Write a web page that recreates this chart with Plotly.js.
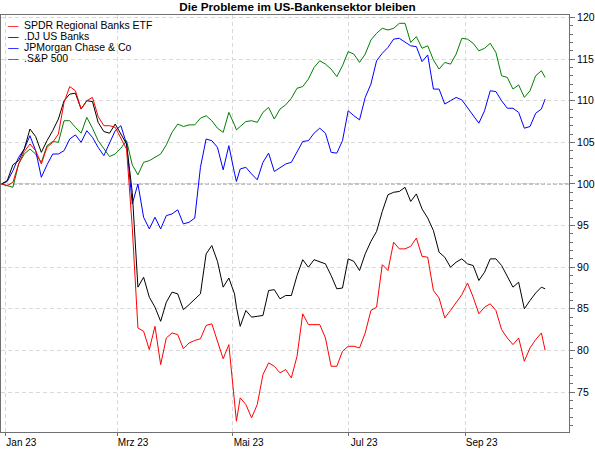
<!DOCTYPE html>
<html><head><meta charset="utf-8">
<script src="https://cdn.plot.ly/plotly-3.0.1.min.js"></script>
<style>html,body{margin:0;padding:0;background:#fff}#chart{width:595px;height:450px}</style>
</head><body><div id="chart"></div>
<script>
const dates = [
'2022-12-30','2023-01-02','2023-01-05','2023-01-08','2023-01-11','2023-01-14','2023-01-17','2023-01-20','2023-01-23','2023-01-26','2023-01-29',
'2023-02-01','2023-02-04','2023-02-07','2023-02-10','2023-02-13','2023-02-16','2023-02-19','2023-02-22','2023-02-25','2023-02-28',
'2023-03-03','2023-03-06','2023-03-09','2023-03-12','2023-03-15','2023-03-18','2023-03-21','2023-03-24','2023-03-27','2023-03-30',
'2023-04-02','2023-04-05','2023-04-08','2023-04-11','2023-04-14','2023-04-17','2023-04-20','2023-04-23','2023-04-26','2023-04-29',
'2023-05-02','2023-05-03','2023-05-05','2023-05-08','2023-05-11','2023-05-14','2023-05-17','2023-05-20','2023-05-23','2023-05-26','2023-05-29',
'2023-06-01','2023-06-04','2023-06-07','2023-06-10','2023-06-13','2023-06-16','2023-06-19','2023-06-22','2023-06-25','2023-06-28',
'2023-07-01','2023-07-04','2023-07-07','2023-07-10','2023-07-13','2023-07-16','2023-07-19','2023-07-22','2023-07-25','2023-07-28','2023-07-31',
'2023-08-03','2023-08-06','2023-08-09','2023-08-12','2023-08-15','2023-08-18','2023-08-21','2023-08-24','2023-08-27','2023-08-30',
'2023-09-02','2023-09-05','2023-09-08','2023-09-11','2023-09-14','2023-09-17','2023-09-20','2023-09-23','2023-09-26','2023-09-29',
'2023-10-02','2023-10-05','2023-10-08','2023-10-11','2023-10-13'
];

const spdrRegionalBanks = [
100, 99.8, 100.2, 102.4, 103.9, 104.8, 104.0, 102.4, 104.4, 105.0, 106.0,
109.8, 111.7, 111.2, 109.0, 110.0, 110.4, 108.1, 107.0, 107.0, 106.8,
105.4, 104.2, 94.8, 82.7, 82.3, 80.1, 82.9, 78.3, 81.5, 82.1,
81.9, 80.2, 80.9, 81.2, 81.4, 83.0, 83.2, 81.0, 79.0, 80.7,
73.3, 71.5, 74.3, 73.5, 71.9, 73.5, 77.1, 78.5, 78.1, 77.3, 77.7,
76.7, 79.3, 84.4, 83.1, 83.1, 83.1, 81.5, 78.1, 78.1, 79.9,
80.5, 80.5, 80.3, 82.1, 84.8, 85.2, 90.3, 89.6, 93.0, 92.2, 92.2,
92.5, 93.5, 91.3, 91.2, 87.2, 86.3, 83.9, 84.8, 85.7, 86.7,
88.1, 86.4, 84.4, 85.2, 85.6, 84.8, 82.5, 81.5, 80.7, 81.5,
78.7, 80.3, 81.3, 82.1, 80.0
];

const djUsBanks = [
100, 100.4, 102.3, 102.8, 104.2, 106.6, 105.7, 103.8, 105.2, 106.4, 107.8,
110.0, 110.8, 110.9, 109.0, 110.0, 109.9, 107.4, 106.3, 106.1, 107.2,
106.0, 104.8, 99.0, 87.6, 88.8, 86.4, 85.2, 83.5, 85.8, 87.0,
86.8, 84.9, 85.5, 86.1, 86.8, 91.6, 92.6, 90.7, 87.6, 88.7,
86.8, 85.2, 82.9, 84.8, 84.0, 84.1, 84.2, 87.2, 87.3, 86.2, 86.6,
86.6, 89.0, 90.9, 90.0, 90.9, 90.6, 90.4, 89.0, 87.4, 87.5,
91.0, 90.7, 89.6, 91.6, 93.1, 94.3, 96.7, 98.7, 99.0, 99.1, 99.6,
97.9, 98.8, 97.0, 95.9, 94.4, 91.8, 91.2, 90.0, 90.6, 91.0,
90.4, 90.2, 88.4, 89.4, 91.0, 91.0, 90.2, 88.9, 87.6, 88.2,
85.0, 86.0, 86.9, 87.6, 87.4
];

const jpMorganChase = [
100, 100.3, 101.6, 103.2, 104.2, 105.8, 104.0, 100.8, 102.3, 103.6, 103.6,
104.0, 105.4, 105.9, 105.0, 106.4, 105.6, 104.4, 103.4, 105.0, 106.4,
107.0, 104.8, 97.6, 100.0, 96.0, 94.6, 96.0, 94.6, 96.2, 96.4,
96.9, 95.2, 95.4, 95.9, 102.0, 105.4, 105.2, 104.4, 101.7, 104.6,
101.3, 100.3, 101.8, 102.0, 101.2, 100.5, 102.6, 103.7, 101.5, 102.0, 102.4,
102.6, 103.9, 105.1, 105.2, 106.1, 106.7, 106.1, 103.8, 103.7, 105.2,
108.8, 108.2, 107.7, 110.4, 112.0, 114.8, 115.7, 116.4, 117.4, 117.5, 117.1,
116.6, 116.5, 114.7, 115.5, 111.4, 111.4, 109.6, 110.0, 110.4, 110.1,
109.2, 108.2, 107.3, 108.8, 111.2, 111.1, 110.0, 109.1, 109.1, 108.6,
106.7, 106.9, 108.5, 109.0, 110.2
];

const sp500 = [
100, 99.8, 99.6, 102.4, 103.6, 104.2, 103.6, 102.6, 104.6, 105.1, 105.0,
107.6, 107.6, 106.8, 106.1, 108.0, 106.7, 105.2, 104.2, 103.3, 103.6,
104.3, 105.2, 102.3, 101.1, 102.6, 102.8, 103.2, 103.6, 104.7, 106.2,
107.2, 106.9, 107.1, 107.1, 107.9, 108.2, 107.6, 106.7, 106.2, 108.6,
107.1, 106.5, 106.9, 107.5, 107.6, 107.4, 108.6, 109.2, 107.8, 109.0, 109.5,
110.3, 111.5, 111.7, 112.6, 114.0, 114.8, 114.4, 113.8, 112.9, 114.2,
115.9, 115.6, 114.6, 115.6, 117.3, 118.1, 118.7, 118.5, 118.7, 119.3, 119.3,
117.0, 117.7, 116.3, 116.6, 114.9, 113.8, 114.6, 114.4, 115.6, 117.5,
117.4, 116.9, 116.0, 116.3, 116.9, 115.8, 113.0, 112.8, 111.4, 111.9,
110.4, 111.2, 113.0, 113.6, 112.8
];

const seriesNames = ['SPDR Regional Banks ETF', '.DJ US Banks', 'JPMorgan Chase & Co', '.S&P 500'];
const seriesValues = [spdrRegionalBanks, djUsBanks, jpMorganChase, sp500];
const seriesColors = ['#ff0000', '#000000', '#0000ff', '#008000'];

const xTickVals = ['2023-01-01', '2023-03-01', '2023-05-01', '2023-07-01', '2023-09-01'];
const xTickText = ['Jan 23', 'Mrz 23', 'Mai 23', 'Jul 23', 'Sep 23'];
const yTickVals = [75, 80, 85, 90, 95, 100, 105, 110, 115, 120];
const baseLevel = 100;
const chartTitle = 'Die Probleme im US-Bankensektor bleiben';

const FONT = 'Liberation Sans, Arial, sans-serif';

// draw order: green, blue, black, red on top
const drawOrder = [3, 2, 1, 0];
const traces = drawOrder.map(i => ({
  type: 'scatter', mode: 'lines', x: dates, y: seriesValues[i], name: seriesNames[i],
  line: {color: seriesColors[i], width: 1}, hoverinfo: 'skip'
}));

const annotations = [];
seriesNames.forEach((name, i) => {
  annotations.push({
    xref: 'paper', yref: 'paper', x: 0, y: 1, xanchor: 'left', yanchor: 'middle',
    xshift: 5, yshift: -(9.6 + 11.1 * i), showarrow: false, text: '\u2014',
    font: {family: FONT, size: 10.5, color: seriesColors[i]}
  });
  annotations.push({
    xref: 'paper', yref: 'paper', x: 0, y: 1, xanchor: 'left', yanchor: 'middle',
    xshift: 20.5, yshift: -(9.6 + 11.1 * i), showarrow: false, text: name,
    font: {family: FONT, size: 10.5, color: '#000000'}
  });
});

const layout = {
  width: 595, height: 450,
  margin: {l: 1, r: 26, t: 15, b: 18, pad: 0},
  paper_bgcolor: '#ffffff', plot_bgcolor: '#ffffff',
  showlegend: false,
  title: {
    text: '<b>' + chartTitle + '</b>', x: 0.5, xanchor: 'center', xref: 'container',
    y: 0.984, yanchor: 'middle', yref: 'container',
    font: {family: FONT, size: 11.7, color: '#000000'}
  },
  xaxis: {
    type: 'date', range: ['2022-12-29 17:00', '2023-10-25 14:00'],
    tickmode: 'array', tickvals: xTickVals, ticktext: xTickText,
    ticks: 'outside', ticklen: 3, tickcolor: '#707070', tickwidth: 1,
    showgrid: true, gridcolor: '#d9d9d9', griddash: '4px,3px', gridwidth: 1,
    showline: true, linecolor: '#707070', linewidth: 1, mirror: true,
    zeroline: false, ticklabelshift: 16, ticklabelstandoff: -2,
    tickfont: {family: FONT, size: 10, color: '#000000'}
  },
  yaxis: {
    side: 'right', range: [70.2, 120.3],
    tickmode: 'array', tickvals: yTickVals,
    ticks: 'outside', ticklen: 5, tickcolor: '#707070', tickwidth: 1,
    minor: {dtick: 1, tick0: 0, ticks: 'outside', ticklen: 3, tickcolor: '#707070', showgrid: false},
    showgrid: true, gridcolor: '#d9d9d9', griddash: '4px,3px', gridwidth: 1,
    showline: true, linecolor: '#707070', linewidth: 1, mirror: true,
    zeroline: false,
    tickfont: {family: FONT, size: 10.5, color: '#000000'}
  },
  shapes: [{
    type: 'line', xref: 'paper', x0: 0, x1: 1, yref: 'y', y0: baseLevel, y1: baseLevel,
    line: {color: '#808080', width: 1, dash: '4px,2px'}, layer: 'below'
  }],
  annotations: annotations
};

Plotly.newPlot('chart', traces, layout, {staticPlot: true, displayModeBar: false});
</script>
</body></html>
